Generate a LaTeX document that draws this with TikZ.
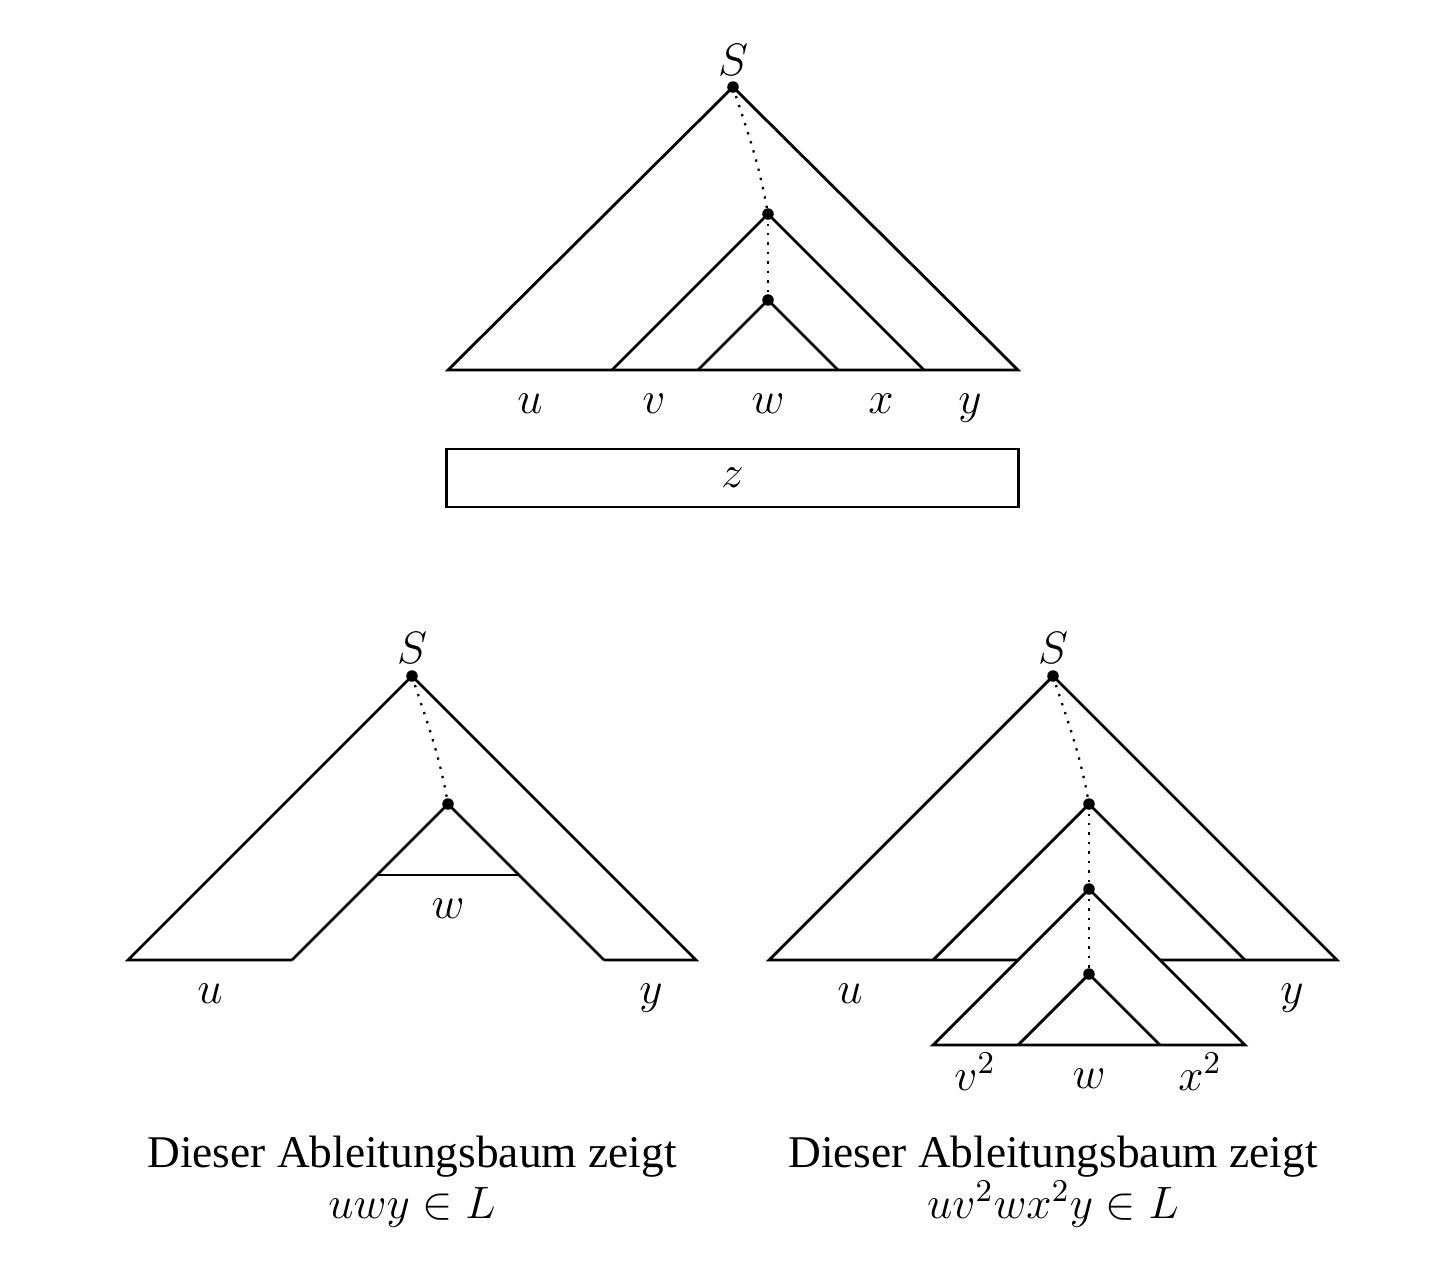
\RequirePackage{fix-cm}
\documentclass[tikz,border=0pt]{standalone}
\usepackage[no-math]{fontspec}
\setmainfont{Liberation Serif}
\begin{document}
\begin{tikzpicture}[x=0.01cm,y=-0.01cm, line width=0.8pt,
  dot/.style={circle,fill,inner sep=0pt,minimum size=0.115cm},
  lbl/.style={anchor=base,inner sep=0pt,font=\fontsize{12.9}{15.5}\selectfont},
  dotline/.style={line width=0.65pt,dash pattern=on 0.65pt off 2.05pt}]
\useasboundingbox (0,0) rectangle (1444,1278);

% ---------- top tree ----------
\node[dot] (tS) at (733,87) {};
\node[dot] (tA) at (768,214) {};
\node[dot] (tB) at (768,300) {};
\coordinate (tL) at (448,370);
\coordinate (tR) at (1018,370);
\coordinate (tAL) at (612,370);
\coordinate (tAR) at (924,370);
\coordinate (tBL) at (698,370);
\coordinate (tBR) at (838,370);
\draw (tS.center) -- (tL) -- (tR) -- cycle;
\draw (tAL) -- (tA.center) -- (tAR);
\draw (tBL) -- (tB.center) -- (tBR);
\draw[dotline] (tS.center) to[out=-72,in=100] (tA.center);
\draw[dotline] (tA.center) -- (tB.center);
\node[lbl] (tSl) at (733,75) {$S$};
\node[lbl] (tu) at (530,413) {$u$};
\node[lbl] (tv) at (654,413) {$v$};
\node[lbl] (tw) at (768,413) {$w$};
\node[lbl] (tx) at (881,413) {$x$};
\node[lbl] (ty) at (970,413) {$y$};
\node[draw,minimum width=5.71cm,minimum height=0.58cm,inner sep=0pt,
  font=\fontsize{12.9}{15.5}\selectfont] (zbox) at (732.5,478) {$z$};

% ---------- bottom left tree ----------
\node[dot] (lS) at (412,676) {};
\node[dot] (lA) at (448,804) {};
\coordinate (lL) at (128,960);
\coordinate (lR) at (696,960);
\coordinate (lLi) at (292,960);
\coordinate (lRi) at (604,960);
\coordinate (lwL) at (377,875);
\coordinate (lwR) at (519,875);
\draw (lLi) -- (lL) -- (lS.center) -- (lR) -- (lRi);
\draw (lLi) -- (lA.center) -- (lRi);
\draw (lwL) -- (lwR);
\draw[dotline] (lS.center) to[out=-72,in=100] (lA.center);
\node[lbl] (lSl) at (412,663) {$S$};
\node[lbl] (lw) at (448,918) {$w$};
\node[lbl] (lu) at (210,1003) {$u$};
\node[lbl] (ly) at (651,1003) {$y$};
\node[lbl] (lc1) at (412,1167) {Dieser Ableitungsbaum zeigt};
\node[lbl] (lc2) at (412,1218) {$uwy \in L$};

% ---------- bottom right tree ----------
\node[dot] (rS) at (1053,676) {};
\node[dot] (rA) at (1089,804) {};
\node[dot] (rB) at (1089,889) {};
\node[dot] (rC) at (1089,974) {};
\coordinate (rL) at (769,960);
\coordinate (rR) at (1337,960);
\coordinate (rLc) at (1018,960);
\coordinate (rRc) at (1160,960);
\coordinate (rAL) at (933,960);
\coordinate (rAR) at (1245,960);
\coordinate (rBL) at (933,1045);
\coordinate (rBR) at (1245,1045);
\coordinate (rCL) at (1018,1045);
\coordinate (rCR) at (1160,1045);
\draw (rLc) -- (rL) -- (rS.center) -- (rR) -- (rRc);
\draw (rAL) -- (rA.center) -- (rAR);
\draw (rB.center) -- (rBL) -- (rBR) -- cycle;
\draw (rCL) -- (rC.center) -- (rCR);
\draw[dotline] (rS.center) to[out=-72,in=100] (rA.center);
\draw[dotline] (rA.center) -- (rB.center) -- (rC.center);
\node[lbl] (rSl) at (1053,663) {$S$};
\node[lbl] (ru) at (850,1003) {$u$};
\node[lbl] (ry) at (1292,1003) {$y$};
\node[lbl] (rv) at (975,1090) {$v^2$};
\node[lbl] (rw) at (1089,1088) {$w$};
\node[lbl] (rx) at (1200,1090) {$x^2$};
\node[lbl] (rc1) at (1053,1167) {Dieser Ableitungsbaum zeigt};
\node[lbl] (rc2) at (1053,1218) {$uv^2wx^2y \in L$};
\end{tikzpicture}
\end{document}
